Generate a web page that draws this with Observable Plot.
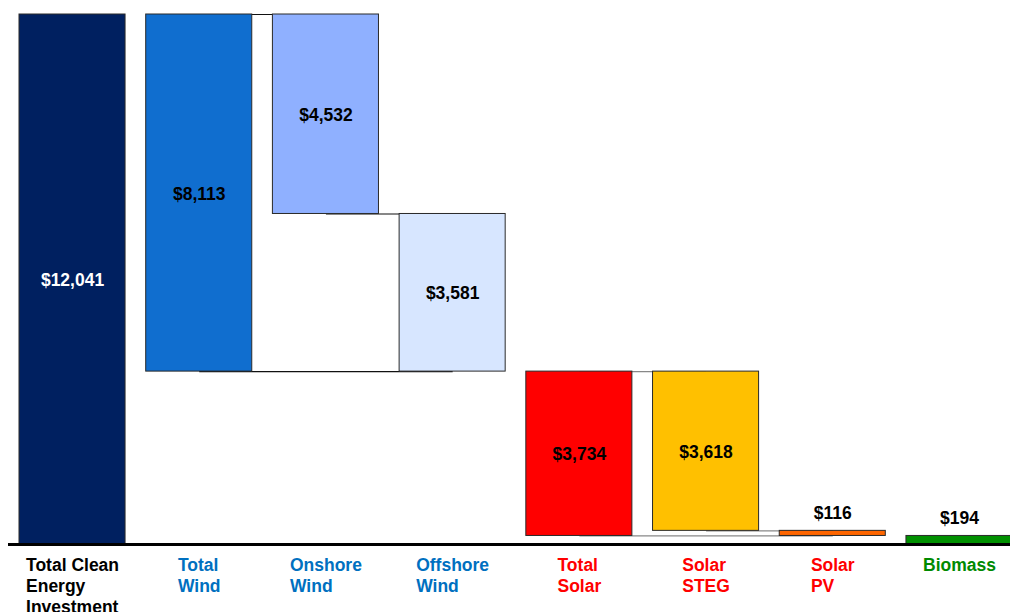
<!DOCTYPE html>
<html>
<head>
<meta charset="utf-8">
<script src="https://cdn.jsdelivr.net/npm/d3@7"></script>
<script src="https://cdn.jsdelivr.net/npm/@observablehq/plot@0.6"></script>
<style>
  html, body { margin: 0; padding: 0; background: #fff; overflow: hidden; }
  #chart { width: 1010px; height: 612px; }
</style>
</head>
<body>
<div id="chart"></div>
<script>
// ---- Data ----
const categories = ["Total Clean Energy Investment", "Total Wind", "Onshore Wind", "Offshore Wind",
                    "Total Solar", "Solar STEG", "Solar PV", "Biomass"];
const axisLabels = ["Total Clean\nEnergy\nInvestment", "Total\nWind", "Onshore\nWind", "Offshore\nWind",
                    "Total\nSolar", "Solar\nSTEG", "Solar\nPV", "Biomass"];
const values = [12041, 8113, 4532, 3581, 3734, 3618, 116, 194];
const bases  = [0, 3928, 7509, 3928, 194, 310, 194, 0];
const valueLabels = ["$12,041", "$8,113", "$4,532", "$3,581", "$3,734", "$3,618", "$116", "$194"];
const labelPlacement = ["inside", "inside", "inside", "inside", "inside", "inside", "above", "above"];
const barColors = ["#002060", "#106ECF", "#8FB0FF", "#D7E6FF", "#FF0000", "#FFC000", "#FF6600", "#009000"];
const valueLabelColors = ["#FFFFFF", "#000000", "#000000", "#000000", "#000000", "#000000", "#000000", "#000000"];
const categoryColors = ["#000000", "#0070C0", "#0070C0", "#0070C0", "#FF0000", "#FF0000", "#FF0000", "#008A00"];
const connFrom  = ["Total Wind", "Onshore Wind", "Total Wind", "Total Solar", "Solar STEG", "Total Solar"];
const connTo    = ["Onshore Wind", "Offshore Wind", "Offshore Wind", "Solar STEG", "Solar PV", "Solar PV"];
const connValue = [12041, 7509, 3928, 3928, 310, 194];
const connColor = ["#111111", "#111111", "#111111", "#888888", "#888888", "#888888"];

// ---- Tables ----
const bars = categories.map((c, i) => ({
  cat: c, base: bases[i], top: bases[i] + values[i], label: valueLabels[i],
  place: labelPlacement[i], fill: barColors[i], lc: valueLabelColors[i]
}));
const connectors = connFrom.map((f, i) => ({from: f, to: connTo[i], v: connValue[i], c: connColor[i]}));

const FONT = "'Liberation Sans', Arial, Helvetica, sans-serif";
const FS = 17.5;

// measure widths for left-aligned, centered label blocks
const ctx = document.createElement("canvas").getContext("2d");
ctx.font = `bold ${FS}px 'Liberation Sans', Arial, sans-serif`;
const blockWidth = s => Math.max(...s.split("\n").map(l => ctx.measureText(l).width));

const axisLabelMarks = categories.map((c, i) =>
  Plot.text([{cat: c, t: axisLabels[i]}], {
    x: "cat", text: "t", frameAnchor: "bottom", lineAnchor: "top",
    textAnchor: "start", dx: -blockWidth(axisLabels[i]) / 2, dy: 12,
    lineHeight: 21 / FS, fill: categoryColors[i], fontWeight: "bold", fontSize: FS
  })
);

const chart = Plot.plot({
  width: 1010,
  height: 612,
  marginTop: 14,
  marginBottom: 68,
  marginLeft: 8,
  marginRight: 0,
  style: {fontFamily: FONT, background: "#fff"},
  x: {domain: categories, range: [8, 1023], paddingInner: 0.163, paddingOuter: 0.0868, round: false, axis: null},
  y: {domain: [0, 12041], axis: null},
  color: {type: "identity"},
  marks: [
    Plot.link(connectors, {x1: "from", x2: "to", y1: "v", y2: "v", stroke: "c", strokeWidth: 1.2}),
    Plot.barY(bars, {x: "cat", y1: "base", y2: "top", fill: "fill", stroke: "#2a2a2a", strokeWidth: 1, inset: 0}),
    Plot.text(bars.filter(d => d.place === "inside"), {
      x: "cat", y: d => (d.base + d.top) / 2, text: "label", fill: "lc",
      fontWeight: "bold", fontSize: FS, dy: 1
    }),
    Plot.text(bars.filter(d => d.place === "above"), {
      x: "cat", y: "top", text: "label", fill: "lc", lineAnchor: "bottom",
      fontWeight: "bold", fontSize: FS, dy: -12
    }),
    Plot.ruleY([0], {stroke: "#000", strokeWidth: 3}),
    ...axisLabelMarks
  ]
});
document.getElementById("chart").appendChild(chart);
</script>
</body>
</html>
